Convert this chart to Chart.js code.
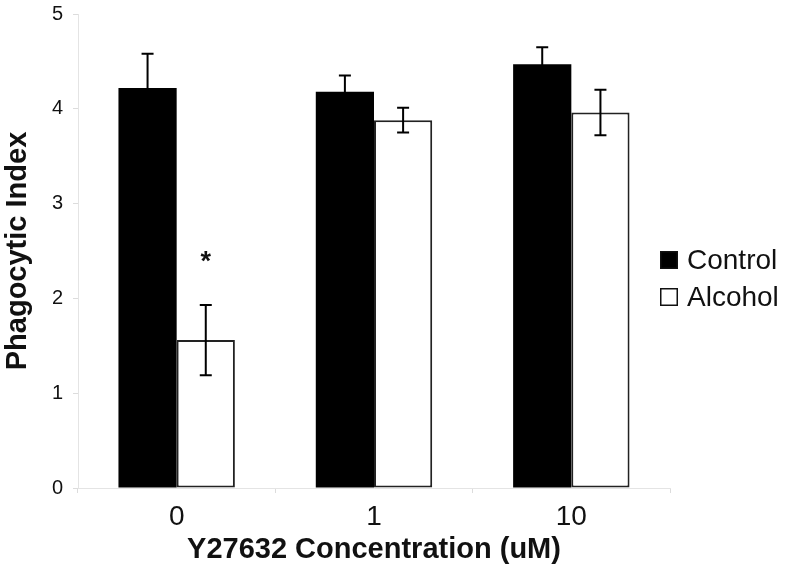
<!DOCTYPE html>
<html>
<head>
<meta charset="utf-8">
<title>Phagocytic Index</title>
<script src="https://cdn.jsdelivr.net/npm/chart.js@4.4.1/dist/chart.umd.min.js"></script>
<style>
  html, body { margin: 0; padding: 0; background: #fff; }
  #wrap { width: 787px; height: 574px; }
</style>
</head>
<body>
<div id="wrap"><canvas id="myChart" width="787" height="574"></canvas></div>
<script>
// data
const categories = ['0', '1', '10'];
const controlMeans = [4.22, 4.18, 4.47];
const controlErr = [0.36, 0.17, 0.18];
const alcoholMeans = [1.56, 3.88, 3.96];
const alcoholErr = [0.37, 0.13, 0.24];
const alcoholMarks = ['*', '', ''];
const yTicks = [0, 1, 2, 3, 4, 5];

const FONT = "'Liberation Sans', Arial, Helvetica, sans-serif";

// error bars drawn on top of each bar
const errorBars = {
  id: 'errorBars',
  afterDatasetsDraw(chart) {
    const ctx = chart.ctx;
    const y = chart.scales.y;
    ctx.save();
    ctx.strokeStyle = '#000';
    ctx.lineWidth = 2;
    chart.data.datasets.forEach((ds, i) => {
      const meta = chart.getDatasetMeta(i);
      meta.data.forEach((bar, j) => {
        const m = ds.data[j], e = ds.errors[j];
        const top = y.getPixelForValue(m + e);
        const bot = y.getPixelForValue(m - e);
        ctx.beginPath();
        ctx.moveTo(bar.x, top); ctx.lineTo(bar.x, bot);
        ctx.moveTo(bar.x - 6, top); ctx.lineTo(bar.x + 6, top);
        ctx.moveTo(bar.x - 6, bot); ctx.lineTo(bar.x + 6, bot);
        ctx.stroke();
        // significance mark
        if (ds.marks && ds.marks[j]) {
          ctx.fillStyle = '#111';
          ctx.font = 'bold 27px ' + FONT;
          ctx.textAlign = 'center';
          ctx.textBaseline = 'alphabetic';
          ctx.fillText(ds.marks[j], bar.x, y.getPixelForValue(m + e + 0.5) + 12);
        }
      });
    });
    ctx.restore();
  }
};

// legend drawn to the right of the plot
const sideLegend = {
  id: 'sideLegend',
  afterDraw(chart) {
    const ctx = chart.ctx;
    const x0 = chart.chartArea.right - 10;
    const rows = [260, 297];
    ctx.save();
    ctx.font = '28px ' + FONT;
    ctx.textBaseline = 'middle';
    ctx.textAlign = 'left';
    chart.data.datasets.forEach((ds, i) => {
      const cy = rows[i];
      ctx.fillStyle = ds.backgroundColor;
      ctx.fillRect(x0, cy - 9, 18, 18);
      ctx.strokeStyle = '#111';
      ctx.lineWidth = 1.5;
      ctx.strokeRect(x0 + 0.75, cy - 8.25, 16.5, 16.5);
      ctx.fillStyle = '#111';
      ctx.fillText(ds.label, x0 + 27, cy + 1);
    });
    ctx.restore();
  }
};

new Chart(document.getElementById('myChart').getContext('2d'), {
  type: 'bar',
  data: {
    labels: categories,
    datasets: [
      {
        label: 'Control',
        data: controlMeans,
        errors: controlErr,
        backgroundColor: '#000000',
        borderWidth: 0
      },
      {
        label: 'Alcohol',
        data: alcoholMeans,
        errors: alcoholErr,
        marks: alcoholMarks,
        backgroundColor: '#ffffff',
        borderColor: '#222',
        borderWidth: 2,
        borderSkipped: false
      }
    ]
  },
  options: {
    responsive: false,
    animation: false,
    events: [],
    layout: { padding: { top: 14, right: 117, bottom: 0, left: 0 } },
    datasets: { bar: { categoryPercentage: 0.59, barPercentage: 1.0 } },
    plugins: { legend: { display: false }, tooltip: { enabled: false } },
    scales: {
      x: {
        afterFit: (s) => { s.height = 86; s.paddingLeft = 0; s.paddingRight = 0; },
        grid: { drawOnChartArea: false, tickLength: 5, color: '#dcdcdc', offset: true },
        border: { color: '#e4e4e4', width: 1 },
        ticks: { color: '#111', font: { family: FONT, size: 28 }, padding: 7 },
        title: {
          display: true,
          text: 'Y27632 Concentration (uM)',
          color: '#111',
          font: { family: FONT, size: 29, weight: 'bold' },
          padding: { top: 0, bottom: 7 }
        }
      },
      y: {
        min: 0,
        max: 5,
        afterFit: (s) => { s.width = 78; s.paddingTop = 0; s.paddingBottom = 0; },
        afterBuildTicks: (s) => { s.ticks = yTicks.map(v => ({ value: v })); },
        grid: { drawOnChartArea: false, tickLength: 5, color: '#dcdcdc' },
        border: { color: '#e4e4e4', width: 1 },
        ticks: { color: '#111', font: { family: FONT, size: 20 }, padding: 10 },
        title: {
          display: true,
          text: 'Phagocytic Index',
          color: '#111',
          font: { family: FONT, size: 29, weight: 'bold' },
          padding: { top: 1, bottom: 0 }
        }
      }
    }
  },
  plugins: [errorBars, sideLegend]
});
</script>
</body>
</html>
